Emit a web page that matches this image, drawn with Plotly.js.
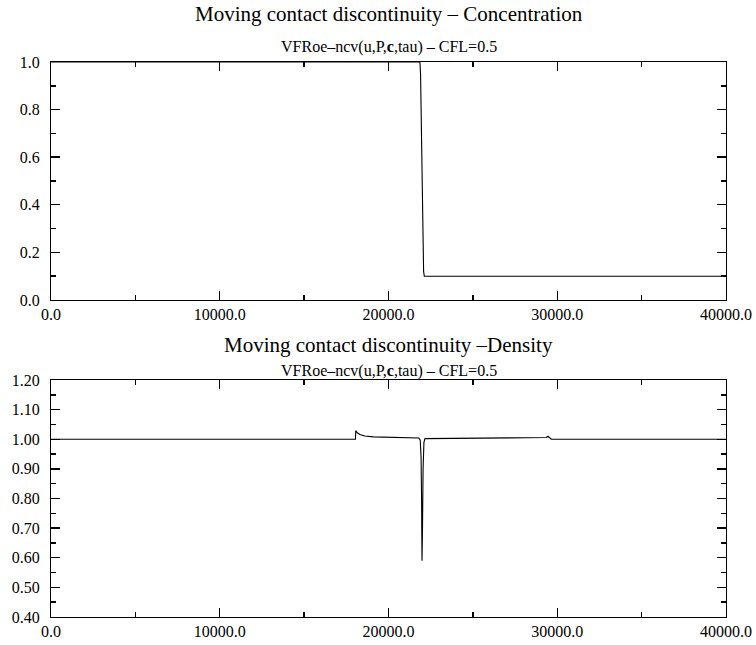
<!DOCTYPE html>
<html>
<head>
<meta charset="utf-8">
<script src="https://cdn.plot.ly/plotly-3.0.1.min.js"></script>
<style>
  html, body { margin: 0; padding: 0; background: #fff; }
  #chart { width: 756px; height: 645px; }
</style>
</head>
<body>
<div id="chart"></div>
<script>
// Concentration profile along the tube
const concX = [0, 21860, 21900, 21950, 22000, 22040, 22080, 22120, 40000];
const concY = [1.0, 1.0, 0.95, 0.72, 0.45, 0.24, 0.12, 0.1, 0.1];

// Density profile along the tube
const densX = [0, 18040, 18060, 18150, 18300, 18600, 19100, 20000, 21000, 21800,
               21880, 21930, 21960, 21985, 22010, 22050, 22100, 22160,
               25000, 29000, 29350, 29450, 29550, 29650, 40000];
const densY = [1.0, 1.0, 1.029, 1.022, 1.016, 1.011, 1.008, 1.006, 1.005, 1.004,
               0.997, 0.94, 0.8, 0.59, 0.68, 0.9, 0.99, 1.002,
               1.003, 1.004, 1.006, 1.01, 1.004, 1.0, 1.0];

const serif = 'Liberation Serif';

function xAxis(anchor) {
  return {
    anchor: anchor, range: [0, 40000], tick0: 0, dtick: 10000, tickformat: '.1f',
    ticks: 'inside', ticklen: 9, tickcolor: '#000', tickwidth: 1.4,
    minor: { dtick: 5000, ticks: 'inside', ticklen: 5, tickcolor: '#000', tickwidth: 1.4 },
    showline: true, linecolor: '#000', linewidth: 1, mirror: 'allticks',
    showgrid: false, zeroline: false,
    tickfont: { family: serif, size: 16, color: '#000' }
  };
}
function yAxis(anchor, domain, range, dtick, minorDtick, fmt) {
  return {
    anchor: anchor, domain: domain, range: range, tick0: 0, dtick: dtick, tickformat: fmt,
    ticks: 'inside', ticklen: 9, tickcolor: '#000', tickwidth: 1.4,
    minor: { dtick: minorDtick, ticks: 'inside', ticklen: 5, tickcolor: '#000', tickwidth: 1.4 },
    showline: true, linecolor: '#000', linewidth: 1, mirror: 'allticks',
    showgrid: false, zeroline: false, ticklabelstandoff: 7,
    tickfont: { family: serif, size: 16, color: '#000' }
  };
}

const traces = [
  { x: concX, y: concY, xaxis: 'x', yaxis: 'y', mode: 'lines',
    line: { color: '#000', width: 1.1 }, hoverinfo: 'skip' },
  { x: densX, y: densY, xaxis: 'x2', yaxis: 'y2', mode: 'lines',
    line: { color: '#000', width: 1.1 }, hoverinfo: 'skip' }
];

const subtitle = 'VFRoe\u2013ncv(u,P,<b>c</b>,tau) \u2013 CFL=0.5';

const layout = {
  width: 756, height: 645,
  margin: { l: 51, r: 30, t: 62, b: 28 },
  paper_bgcolor: '#fff', plot_bgcolor: '#fff',
  showlegend: false,
  xaxis: xAxis('y'),
  yaxis: yAxis('x', [0.5712, 1], [0, 1], 0.2, 0.1, '.1f'),
  xaxis2: xAxis('y2'),
  yaxis2: yAxis('x2', [0, 0.427], [0.4, 1.2], 0.1, 0.05, '.2f'),
  annotations: [
    { text: 'Moving contact discontinuity \u2013 Concentration', xref: 'paper', yref: 'paper',
      x: 0.5, y: 1, yshift: 62, showarrow: false,
      font: { family: serif, size: 21, color: '#000' } },
    { text: subtitle, xref: 'paper', yref: 'paper', x: 0.5, y: 1, yshift: 26, showarrow: false,
      font: { family: serif, size: 16, color: '#000' } },
    { text: 'Moving contact discontinuity \u2013Density', xref: 'paper', yref: 'paper',
      x: 0.5, y: 0.427, yshift: 35, showarrow: false,
      font: { family: serif, size: 21, color: '#000' } },
    { text: subtitle, xref: 'paper', yref: 'paper', x: 0.5, y: 0.427, yshift: 9, showarrow: false,
      font: { family: serif, size: 16, color: '#000' } }
  ]
};

Plotly.newPlot('chart', traces, layout, { staticPlot: true, displayModeBar: false });
</script>
</body>
</html>
